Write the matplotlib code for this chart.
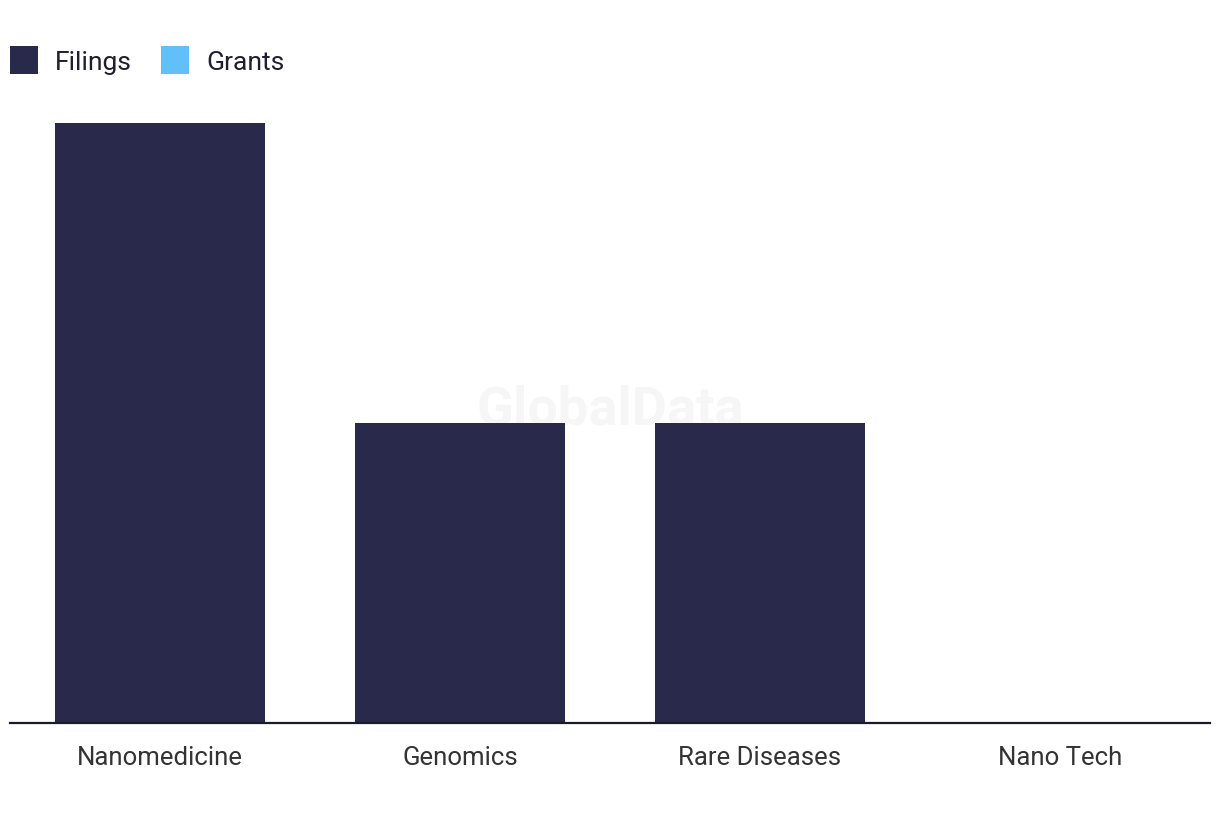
import matplotlib
matplotlib.use("Agg")
import matplotlib.pyplot as plt
import numpy as np
from matplotlib.patches import Patch

categories = ["Nanomedicine", "Genomics", "Rare Diseases", "Nano Tech"]
filings = [2, 1, 1, 0]
grants = [0, 0, 0, 0]

plt.rcParams['font.family'] = ['Roboto', 'DejaVu Sans']

fig = plt.figure(figsize=(12.2, 8.2), dpi=100)
W, H = 1220, 820
ax = fig.add_axes([10 / W, (H - 724) / H, 1200 / W, (724 - 124) / H])

x = np.arange(len(categories))
fil_color = "#28294b"
gr_color = "#62c0f8"
ax.bar(x, filings, width=0.7, color=fil_color, zorder=2)
# Grants are all zero -> nothing visible
ax.bar(x, grants, width=0.7, color=gr_color, zorder=2, bottom=filings)

ax.set_xlim(-0.5, len(categories) - 0.5)
ax.set_ylim(0, max(filings))
ax.set_xticks(x)
ax.set_xticklabels(categories, fontsize=18.5, color="#333333")
ax.tick_params(axis='x', length=0, pad=16)
ax.set_yticks([])
for s in ["top", "right", "left"]:
    ax.spines[s].set_visible(False)
ax.spines["bottom"].set_color("#1a1a2e")
ax.spines["bottom"].set_linewidth(1.6)
ax.spines["bottom"].set_zorder(3)

ax.text(610 / W, 1 - 410 / H, "GlobalData", fontsize=39, fontweight="bold",
        color="#f6f6f6", ha="center", va="center", zorder=0,
        transform=fig.transFigure)

handles = [Patch(facecolor=fil_color, label="Filings"),
           Patch(facecolor=gr_color, label="Grants")]
fig.legend(handles=handles, loc="center left", bbox_to_anchor=(10 / W, 1 - 61 / H),
           ncol=2, frameon=False, fontsize=19, handlelength=1.06, handleheight=1.3,
           handletextpad=0.65, columnspacing=1.1, borderpad=0, borderaxespad=0,
           labelcolor="#1e1e2e")

fig.savefig("out.png", dpi=100)
